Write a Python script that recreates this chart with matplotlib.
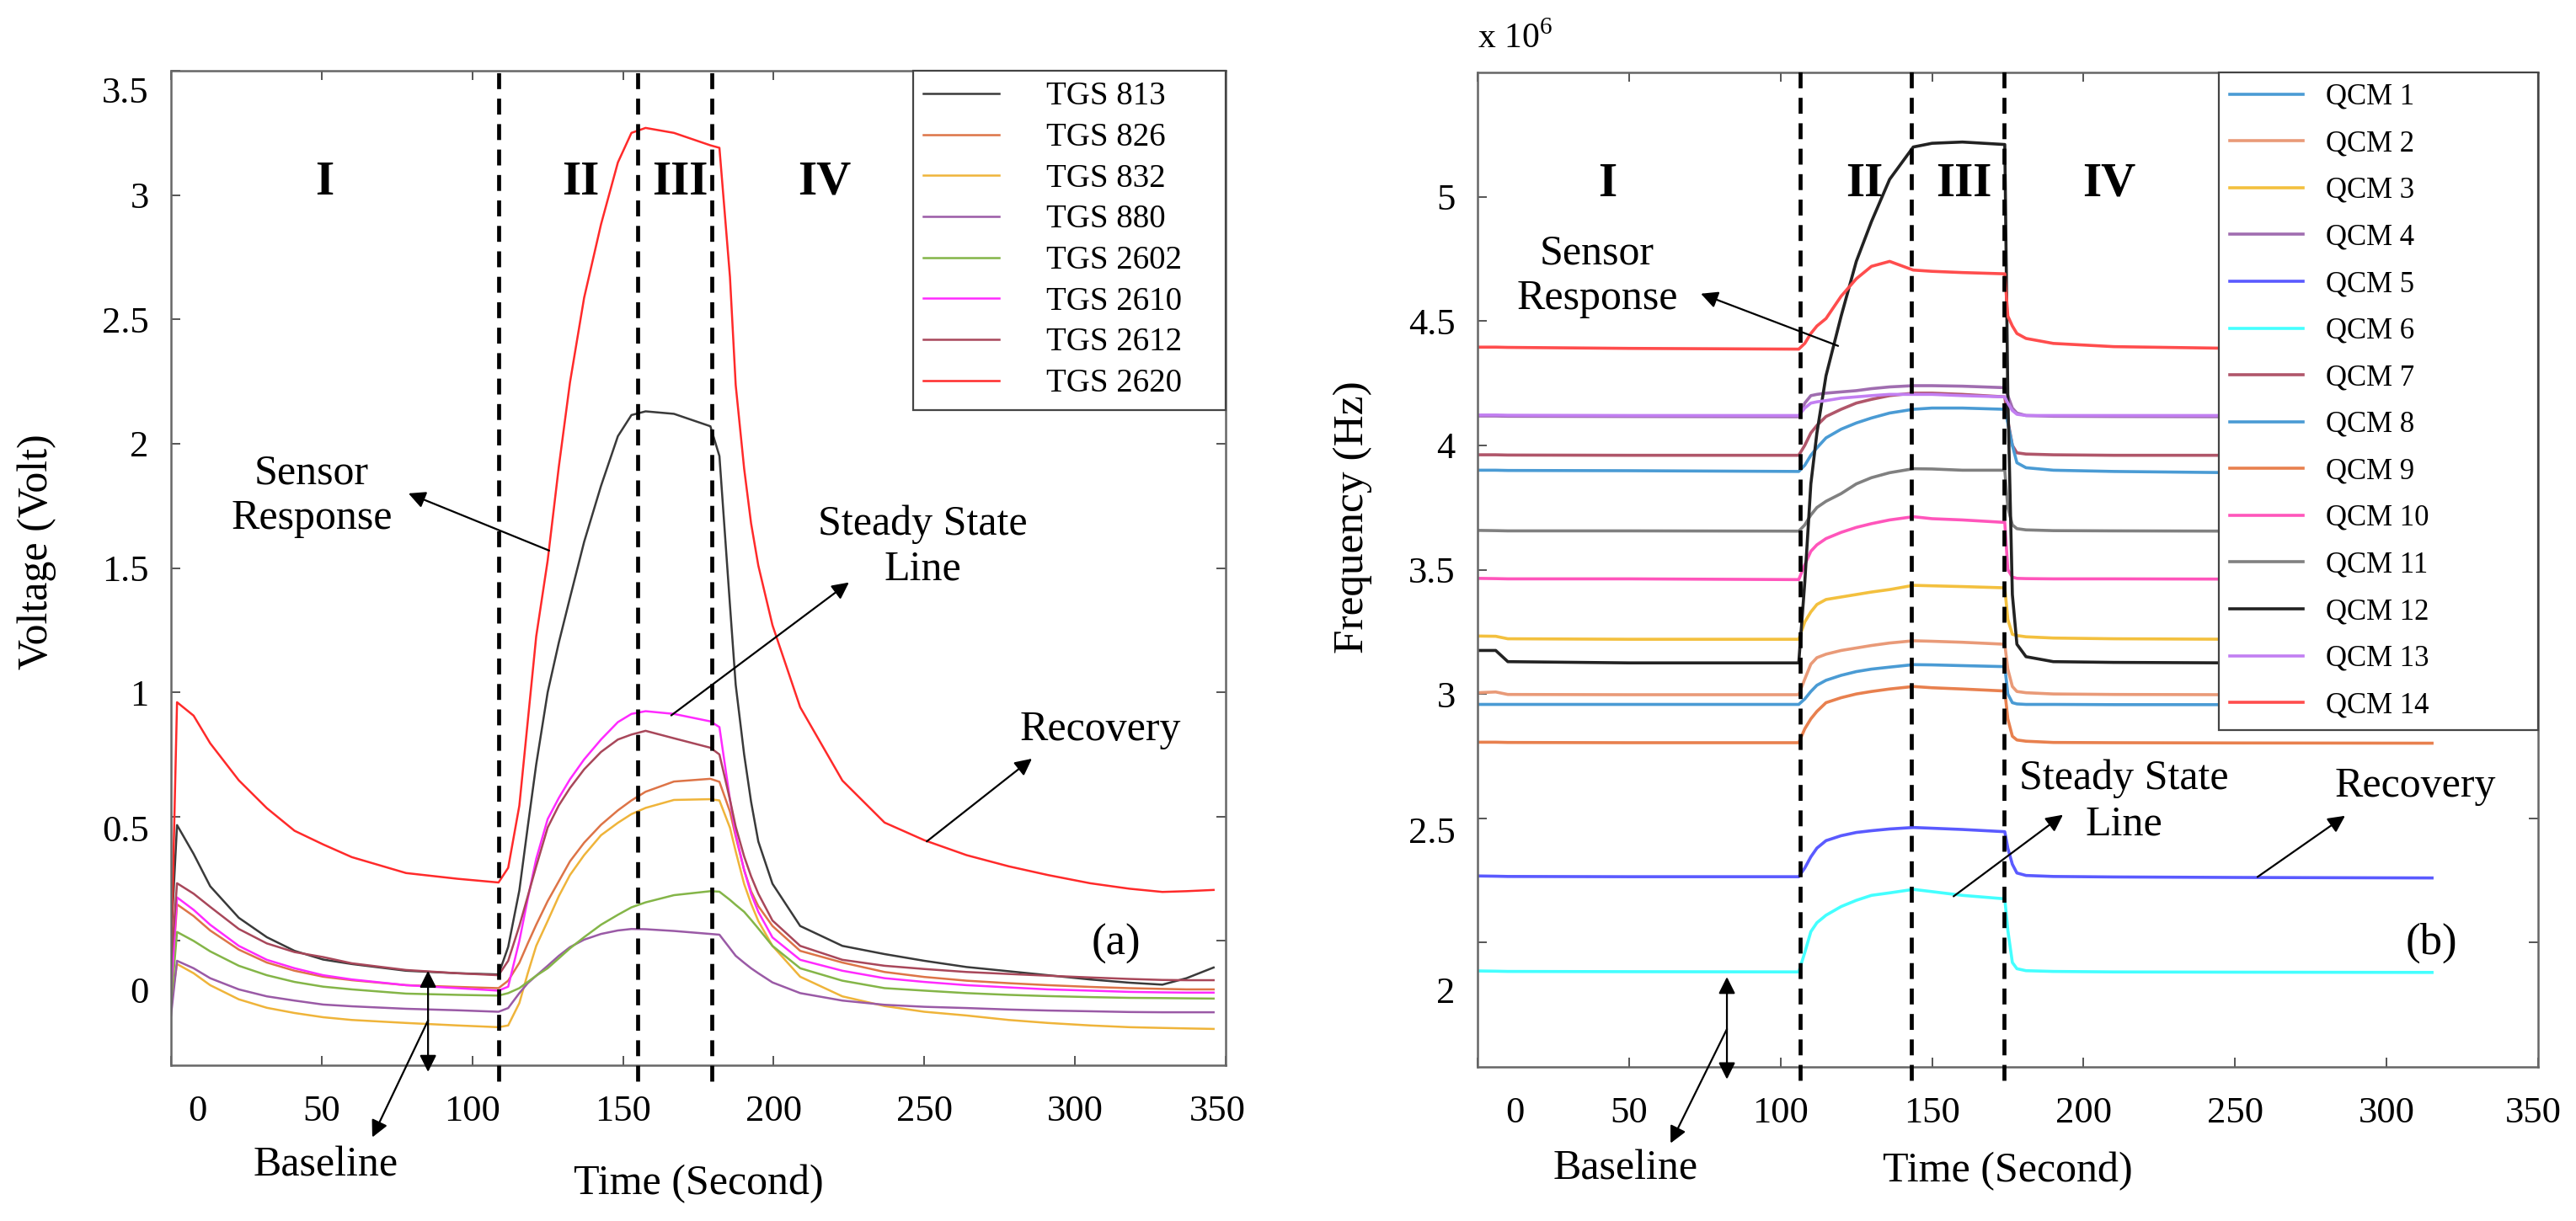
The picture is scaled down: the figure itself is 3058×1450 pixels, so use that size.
import matplotlib
matplotlib.use("Agg")
import matplotlib.pyplot as plt
import matplotlib.transforms as mtransforms

plt.rcParams['font.family'] = ['Liberation Serif', 'DejaVu Serif']
plt.rcParams['mathtext.fontset'] = 'custom'
plt.rcParams['mathtext.rm'] = 'Liberation Serif'

# ---------------- panel (a): TGS sensors, voltage ----------------
tgs_time = [0, 2, 7.5, 13, 22.5, 31.8, 41, 50.5, 60, 78,
            95, 108.7, 111.9, 115.6, 118.4, 121.2, 125, 128.7, 132.4, 137.1,
            142.7, 148.3, 152.8, 157.5, 166.9, 179, 182, 185.5, 187.4, 190.2,
            192.5, 194.9, 199.6, 208.8, 222.8, 236.8, 250, 264, 278, 291,
            305, 318, 329, 337, 346]

tgs813 = [0.0, 0.466, 0.35, 0.22, 0.093, 0.015, -0.04, -0.075, -0.093, -0.12,
          -0.13, -0.135, -0.024, 0.203, 0.46, 0.71, 1.0, 1.2, 1.38, 1.605,
          1.83, 2.03, 2.115, 2.13, 2.12, 2.07, 1.95, 1.35, 1.03, 0.75,
          0.56, 0.40, 0.23, 0.06, -0.02, -0.053, -0.08, -0.105, -0.122, -0.138,
          -0.155, -0.168, -0.176, -0.15, -0.107]
tgs826 = [-0.2, 0.147, 0.1, 0.042, -0.035, -0.087, -0.12, -0.144, -0.158, -0.178,
          -0.185, -0.19, -0.16, -0.088, -0.01, 0.065, 0.16, 0.24, 0.32, 0.395,
          0.467, 0.525, 0.565, 0.6, 0.641, 0.652, 0.64, 0.52, 0.42, 0.285,
          0.2, 0.14, 0.06, -0.04, -0.087, -0.125, -0.145, -0.16, -0.17, -0.178,
          -0.185, -0.19, -0.193, -0.195, -0.195]
tgs832 = [-0.25, -0.093, -0.13, -0.178, -0.235, -0.269, -0.29, -0.307, -0.318, -0.33,
          -0.34, -0.347, -0.34, -0.25, -0.13, -0.02, 0.08, 0.18, 0.265, 0.345,
          0.425, 0.475, 0.51, 0.535, 0.567, 0.57, 0.565, 0.455, 0.36, 0.229,
          0.15, 0.08, -0.02, -0.144, -0.223, -0.262, -0.285, -0.3, -0.318, -0.33,
          -0.34, -0.347, -0.35, -0.352, -0.354]
tgs880 = [-0.3, -0.08, -0.11, -0.15, -0.195, -0.223, -0.24, -0.256, -0.263, -0.273,
          -0.279, -0.285, -0.27, -0.21, -0.17, -0.14, -0.1, -0.06, -0.025, 0.005,
          0.028, 0.042, 0.048, 0.047, 0.04, 0.028, 0.025, -0.03, -0.06, -0.088,
          -0.11, -0.13, -0.167, -0.21, -0.24, -0.257, -0.265, -0.27, -0.276, -0.28,
          -0.283, -0.286, -0.287, -0.287, -0.287]
tgs2602 = [-0.25, 0.036, 0.0, -0.042, -0.1, -0.138, -0.165, -0.184, -0.195, -0.212,
           -0.217, -0.22, -0.21, -0.19, -0.165, -0.14, -0.11, -0.07, -0.03, 0.015,
           0.065, 0.105, 0.135, 0.155, 0.184, 0.2, 0.198, 0.165, 0.145, 0.117,
           0.085, 0.05, -0.02, -0.11, -0.16, -0.19, -0.2, -0.21, -0.217, -0.222,
           -0.226, -0.229, -0.23, -0.231, -0.232]
tgs2610 = [-0.2, 0.175, 0.125, 0.065, -0.02, -0.076, -0.11, -0.138, -0.155, -0.178,
           -0.19, -0.2, -0.184, 0.0, 0.17, 0.33, 0.49, 0.575, 0.65, 0.73,
           0.81, 0.88, 0.913, 0.924, 0.913, 0.883, 0.86, 0.568, 0.43, 0.285,
           0.19, 0.117, 0.014, -0.076, -0.12, -0.15, -0.165, -0.178, -0.187, -0.195,
           -0.2, -0.205, -0.207, -0.208, -0.208]
tgs2612 = [-0.1, 0.232, 0.19, 0.137, 0.048, -0.01, -0.045, -0.065, -0.09, -0.117,
           -0.13, -0.138, -0.08, 0.06, 0.18, 0.3, 0.456, 0.545, 0.615, 0.69,
           0.76, 0.81, 0.83, 0.845, 0.815, 0.777, 0.75, 0.568, 0.46, 0.34,
           0.26, 0.19, 0.082, -0.02, -0.076, -0.1, -0.113, -0.125, -0.133, -0.14,
           -0.147, -0.153, -0.157, -0.158, -0.158]
tgs2620 = [-0.1, 0.96, 0.906, 0.795, 0.646, 0.534, 0.443, 0.388, 0.337, 0.273,
           0.25, 0.235, 0.294, 0.544, 0.884, 1.225, 1.53, 1.907, 2.246, 2.587,
           2.882, 3.131, 3.25, 3.27, 3.25, 3.2, 3.19, 2.67, 2.236, 1.9,
           1.68, 1.51, 1.27, 0.94, 0.645, 0.476, 0.405, 0.345, 0.30, 0.265,
           0.232, 0.21, 0.197, 0.2, 0.205]

tgs_names = ['TGS 813', 'TGS 826', 'TGS 832', 'TGS 880',
             'TGS 2602', 'TGS 2610', 'TGS 2612', 'TGS 2620']
tgs_colors = ['#3a3a3a', '#dd7447', '#efb43a', '#9a5aa6',
              '#84b548', '#ff2aff', '#a8475a', '#ff2a2a']
tgs_phase = [108.7, 154.8, 179.5]

# ---------------- panel (b): QCM sensors, frequency (x 10^6 Hz) ----------------
qcm_time = [0, 6, 10, 50, 106, 108, 110, 112, 115, 120, 125, 130, 136,
            143.8, 150, 160, 174, 175, 176.5, 178, 181, 190, 210, 250, 315]

qcm1 = [2.958, 2.958, 2.958, 2.958, 2.958, 2.98, 3.01, 3.035, 3.055, 3.075, 3.09, 3.1, 3.108,
        3.118, 3.117, 3.114, 3.11, 3.0, 2.965, 2.96, 2.958, 2.958, 2.957, 2.957, 2.956]
qcm2 = [3.005, 3.008, 2.998, 2.997, 2.997, 3.06, 3.12, 3.146, 3.16, 3.175, 3.185, 3.195, 3.205,
        3.214, 3.212, 3.208, 3.2, 3.1, 3.03, 3.01, 3.005, 3.0, 2.998, 2.997, 2.997]
qcm3 = [3.233, 3.232, 3.222, 3.22, 3.22, 3.29, 3.33, 3.36, 3.38, 3.39, 3.4, 3.41, 3.42,
        3.437, 3.435, 3.432, 3.427, 3.3, 3.24, 3.235, 3.23, 3.225, 3.222, 3.22, 3.22]
qcm4 = [4.118, 4.118, 4.117, 4.116, 4.115, 4.17, 4.2, 4.205, 4.21, 4.215, 4.22, 4.228, 4.235,
        4.24, 4.24, 4.238, 4.232, 4.2, 4.15, 4.13, 4.12, 4.117, 4.116, 4.115, 4.115]
qcm5 = [2.268, 2.267, 2.266, 2.265, 2.265, 2.3, 2.345, 2.38, 2.41, 2.43, 2.443, 2.45, 2.457,
        2.463, 2.46, 2.455, 2.446, 2.38, 2.315, 2.28, 2.27, 2.266, 2.264, 2.262, 2.26]
qcm6 = [1.886, 1.885, 1.884, 1.883, 1.882, 1.96, 2.044, 2.08, 2.11, 2.145, 2.17, 2.19, 2.2,
        2.214, 2.205, 2.19, 2.176, 2.05, 1.92, 1.895, 1.887, 1.884, 1.882, 1.881, 1.88]
qcm7 = [3.962, 3.962, 3.961, 3.96, 3.96, 4.0, 4.05, 4.08, 4.116, 4.145, 4.17, 4.185, 4.2,
        4.21, 4.21, 4.205, 4.195, 4.1, 4.0, 3.97, 3.965, 3.962, 3.96, 3.96, 3.96]
qcm8 = [3.9, 3.9, 3.899, 3.898, 3.895, 3.92, 3.96, 3.99, 4.03, 4.065, 4.09, 4.11, 4.13,
        4.145, 4.15, 4.15, 4.145, 4.09, 4.0, 3.93, 3.91, 3.9, 3.895, 3.89, 3.885]
qcm9 = [2.806, 2.806, 2.805, 2.804, 2.804, 2.86, 2.9, 2.93, 2.965, 2.985, 3.0, 3.01, 3.02,
        3.03, 3.025, 3.02, 3.012, 2.9, 2.83, 2.815, 2.81, 2.805, 2.804, 2.803, 2.802]
qcm10 = [3.465, 3.464, 3.463, 3.463, 3.46, 3.52, 3.574, 3.6, 3.625, 3.65, 3.67, 3.685, 3.7,
         3.713, 3.705, 3.7, 3.69, 3.5, 3.47, 3.465, 3.464, 3.463, 3.463, 3.462, 3.462]
qcm11 = [3.658, 3.657, 3.656, 3.656, 3.655, 3.68, 3.72, 3.75, 3.775, 3.806, 3.845, 3.87, 3.89,
         3.906, 3.905, 3.9, 3.9, 3.75, 3.68, 3.665, 3.66, 3.657, 3.656, 3.655, 3.655]
qcm12 = [3.175, 3.175, 3.13, 3.125, 3.125, 3.45, 3.845, 4.05, 4.28, 4.52, 4.74, 4.9, 5.07,
         5.2, 5.215, 5.22, 5.21, 4.2, 3.4, 3.2, 3.15, 3.13, 3.127, 3.125, 3.125]
qcm13 = [4.122, 4.122, 4.121, 4.12, 4.12, 4.15, 4.17, 4.175, 4.18, 4.19, 4.195, 4.2, 4.205,
         4.205, 4.205, 4.2, 4.195, 4.17, 4.14, 4.125, 4.12, 4.12, 4.12, 4.12, 4.12]
qcm14 = [4.395, 4.395, 4.394, 4.39, 4.387, 4.41, 4.45, 4.48, 4.51, 4.6, 4.67, 4.72, 4.74,
         4.705, 4.7, 4.695, 4.69, 4.52, 4.48, 4.45, 4.43, 4.41, 4.397, 4.39, 4.39]

qcm_names = ['QCM %d' % i for i in range(1, 15)]
qcm_colors = ['#4a9bd4', '#e99a78', '#f3c03e', '#a06db0', '#5a5aff', '#44ffff', '#b0566a',
              '#4a9bd4', '#e8804e', '#ff55bb', '#808080', '#222222', '#c27ff2', '#ff4d4d']
qcm_phase = [106.5, 143.2, 173.8]

W, H = 3058, 1450
fig = plt.figure(figsize=(W / 100, H / 100), dpi=100)
ax1 = fig.add_axes([203 / W, 1 - 1265 / H, 1252 / W, 1181 / H])
ax2 = fig.add_axes([1754 / W, 1 - 1267 / H, 1259 / W, 1181 / H])


def shift(label, dx=0, dy=0):
    label.set_transform(label.get_transform() + mtransforms.Affine2D().translate(dx, dy))


def style_axes(ax):
    for s in ax.spines.values():
        s.set_color('#666666')
        s.set_linewidth(1.8)
    ax.tick_params(direction='in', length=8, width=1.4, color='#555555',
                   top=True, right=True, labelsize=32)
    ax.tick_params(axis='x', pad=25)
    ax.tick_params(axis='y', pad=19)


def arrow(ax, tail, head, style='-|>'):
    ax.annotate('', xy=head, xytext=tail, annotation_clip=False,
                arrowprops=dict(arrowstyle=style, color='black', lw=1.6,
                                mutation_scale=30, shrinkA=0, shrinkB=0))


# ---- panel (a) ----
series_a = [tgs813, tgs826, tgs832, tgs880, tgs2602, tgs2610, tgs2612, tgs2620]
for vals, name, col in zip(series_a, tgs_names, tgs_colors):
    ax1.plot(tgs_time, vals, color=col, lw=1.8, label=name)
for x in tgs_phase:
    ax1.axvline(x, ymin=-0.016, ymax=1.004, color='black', lw=3.4,
                dashes=(4, 2.4), clip_on=False, zorder=3)
ax1.set_xlim(0, 350)
ax1.set_ylim(-0.5, 3.5)
ax1.set_xticks(range(0, 351, 50))
ax1.set_yticks([0, 0.5, 1, 1.5, 2, 2.5, 3, 3.5])
ax1.set_yticklabels(['0', '0.5', '1', '1.5', '2', '2.5', '3', '3.5'])
style_axes(ax1)
ax1.set_xlabel('Time (Second)', fontsize=36)
ax1.xaxis.set_label_coords(0.5, -0.100)
ax1.set_ylabel('Voltage (Volt)', fontsize=36)
ax1.yaxis.set_label_coords(-0.1086, 0.516)

leg1 = ax1.legend(loc='upper left', bbox_to_anchor=(0.7037, 0, 0.2963, 1), mode='expand',
                  fontsize=28, borderaxespad=0, borderpad=0.32, labelspacing=0.30,
                  handlelength=2.3, handletextpad=1.45, fancybox=False,
                  edgecolor='#444444', framealpha=1)
leg1.get_frame().set_linewidth(1.6)

for txt, t in zip(['I', 'II', 'III', 'IV'], [51, 136, 169, 217]):
    ax1.text(t, 3.05, txt, fontsize=41, fontweight='bold', ha='center', va='center')
ax1.text(46.7, 1.79, 'Sensor\nResponse', fontsize=36, ha='center', va='center')
arrow(ax1, (125.5, 1.57), (78.8, 1.80))
ax1.text(249.4, 1.585, 'Steady State\nLine', fontsize=36, ha='center', va='center')
arrow(ax1, (166, 0.907), (225, 1.442))
ax1.text(308.4, 0.85, 'Recovery', fontsize=36, ha='center', va='center')
arrow(ax1, (250.8, 0.40), (285.7, 0.733))
ax1.text(51.4, -0.903, 'Baseline', fontsize=36, ha='center', va='center')
arrow(ax1, (85.3, -0.32), (85.3, -0.12))
arrow(ax1, (85.3, -0.32), (85.3, -0.527))
arrow(ax1, (85.3, -0.32), (66.8, -0.79))
ax1.text(313.7, -0.012, '(a)', fontsize=38, ha='center', va='center')

ylab = ax1.get_yticklabels()
shift(ylab[0], dy=-58)
shift(ylab[1], dy=-14)
shift(ylab[-1], dy=-23)
xlab = ax1.get_xticklabels()
shift(xlab[0], dx=31)
shift(xlab[-1], dx=-10)

# ---- panel (b) ----
series_b = [qcm1, qcm2, qcm3, qcm4, qcm5, qcm6, qcm7,
            qcm8, qcm9, qcm10, qcm11, qcm12, qcm13, qcm14]
for vals, name, col in zip(series_b, qcm_names, qcm_colors):
    ax2.plot(qcm_time, vals, color=col, lw=2.6, label=name)
for x in qcm_phase:
    ax2.axvline(x, ymin=-0.0135, ymax=1.005, color='black', lw=3.4,
                dashes=(4, 2.4), clip_on=False, zorder=3)
ax2.set_xlim(0, 350)
ax2.set_ylim(1.5, 5.5)
ax2.set_xticks(range(0, 351, 50))
ax2.set_yticks([2, 2.5, 3, 3.5, 4, 4.5, 5])
ax2.set_yticklabels(['2', '2.5', '3', '3.5', '4', '4.5', '5'])
style_axes(ax2)
ax2.set_xlabel('Time (Second)', fontsize=36)
ax2.xaxis.set_label_coords(0.5, -0.0855)
ax2.set_ylabel('Frequency (Hz)', fontsize=37)
ax2.yaxis.set_label_coords(-0.0993, 0.553)
ax2.text(0.0, 1.034, r'x 10$^{6}$', transform=ax2.transAxes, fontsize=30,
         ha='left', va='center')

leg2 = ax2.legend(loc='upper left', bbox_to_anchor=(0.699, 0, 0.301, 1), mode='expand',
                  fontsize=25, borderaxespad=0, borderpad=0.37, labelspacing=0.65,
                  handlelength=2.5, handletextpad=0.8, fancybox=False,
                  edgecolor='#444444', framealpha=1)
leg2.get_frame().set_linewidth(1.6)

for txt, t in zip(['I', 'II', 'III', 'IV'], [42.8, 127.6, 160.4, 208.5]):
    ax2.text(t, 5.05, txt, fontsize=41, fontweight='bold', ha='center', va='center')
ax2.text(39.5, 4.68, 'Sensor\nResponse', fontsize=36, ha='center', va='center')
arrow(ax2, (119, 4.40), (73.7, 4.61))
ax2.text(213.2, 2.567, 'Steady State\nLine', fontsize=36, ha='center', va='center')
arrow(ax2, (157.1, 2.186), (193.2, 2.514))
ax2.text(309.4, 2.63, 'Recovery', fontsize=36, ha='center', va='center')
arrow(ax2, (257.4, 2.264), (286.3, 2.51))
ax2.text(48.9, 1.088, 'Baseline', fontsize=36, ha='center', va='center')
arrow(ax2, (82.3, 1.652), (82.3, 1.862))
arrow(ax2, (82.3, 1.652), (82.3, 1.45))
arrow(ax2, (82.3, 1.652), (63.7, 1.193))
ax2.text(314.7, 2.0, '(b)', fontsize=38, ha='center', va='center')

ylab = ax2.get_yticklabels()
shift(ylab[0], dy=-56)
shift(ylab[1], dy=-14)
xlab = ax2.get_xticklabels()
shift(xlab[0], dx=44)
shift(xlab[-1], dx=-6)

fig.savefig('out.png', dpi=100)
